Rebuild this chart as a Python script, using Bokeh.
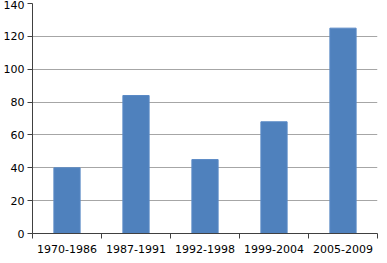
from bokeh.plotting import figure
from bokeh.models import FixedTicker, ColumnDataSource, Range1d
from bokeh.embed import file_html
from bokeh.resources import INLINE

categories = ["1970-1986", "1987-1991", "1992-1998", "1999-2004", "2005-2009"]
values = [40, 84, 45, 68, 125]
y_ticks = [0, 20, 40, 60, 80, 100, 120, 140]

xpos = list(range(1, len(categories) + 1))
source = ColumnDataSource(dict(x=xpos, top=values, cat=categories))

p = figure(width=379, height=255, output_backend="svg", toolbar_location=None,
           x_range=Range1d(0.5, len(categories) + 0.5), y_range=Range1d(0, 140),
           min_border_left=2, min_border_right=2, min_border_top=3, min_border_bottom=0)
p.outline_line_color = None
p.background_fill_color = "white"

p.vbar(x="x", top="top", width=0.38, source=source,
       fill_color="#4f81bd", line_color="#5a8ac6", line_width=1)

font = "DejaVu Sans"
# x axis
p.xaxis.ticker = FixedTicker(ticks=xpos, minor_ticks=[i + 0.5 for i in range(0, len(categories) + 1)])
p.xaxis.major_label_overrides = {x: c for x, c in zip(xpos, categories)}
p.xaxis.major_tick_line_color = None
p.xaxis.major_tick_out = 0
p.xaxis.major_tick_in = 0
p.xaxis.minor_tick_out = 5
p.xaxis.minor_tick_in = 0
p.xaxis.minor_tick_line_color = "#404040"
p.xaxis.axis_line_color = "#404040"
p.xaxis.major_label_text_font = font
p.xaxis.major_label_text_font_size = "11px"
p.xaxis.major_label_text_color = "#000000"
p.xaxis.major_label_standoff = 6

# y axis
p.yaxis.ticker = FixedTicker(ticks=y_ticks)
p.yaxis.minor_tick_line_color = None
p.yaxis.major_tick_out = 5
p.yaxis.major_tick_in = 0
p.yaxis.major_tick_line_color = "#404040"
p.yaxis.axis_line_color = "#404040"
p.yaxis.major_label_text_font = font
p.yaxis.major_label_text_font_size = "11px"
p.yaxis.major_label_text_color = "#000000"
p.yaxis.major_label_standoff = 3

p.xgrid.grid_line_color = None
p.ygrid.ticker = FixedTicker(ticks=y_ticks)
p.ygrid.grid_line_color = "#a6a6a6"
p.ygrid.grid_line_width = 1

open("out.html", "w").write(file_html(p, INLINE))
